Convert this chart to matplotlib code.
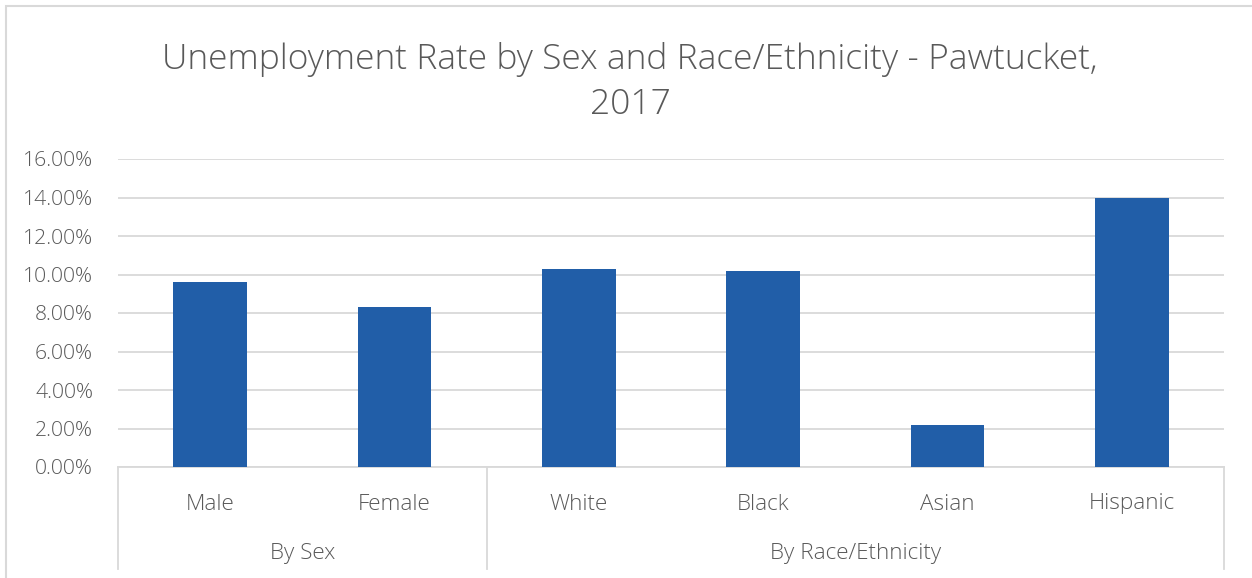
import matplotlib
matplotlib.use("Agg")
import matplotlib.pyplot as plt
from matplotlib.ticker import FuncFormatter, MultipleLocator
from matplotlib.patches import Rectangle
from matplotlib.transforms import blended_transform_factory

categories = ["Male", "Female", "White", "Black", "Asian", "Hispanic"]
values = [0.096, 0.083, 0.103, 0.102, 0.022, 0.140]
groups = ["By Sex", "By Race/Ethnicity"]
group_sizes = [2, 4]
title = "Unemployment Rate by Sex and Race/Ethnicity - Pawtucket,\n2017"

plt.rcParams['font.family'] = ['Open Sans', 'DejaVu Sans']
plt.rcParams['font.weight'] = 300
W, H = 1252, 578
fig = plt.figure(figsize=(W / 100, H / 100), dpi=100)

# outer chart border
fig.patches.append(Rectangle((6 / W, -0.1), 1.2, 1 - 6 / H + 0.1, transform=fig.transFigure,
                             fill=False, edgecolor="#d9d9d9", linewidth=1.5))

ax = fig.add_axes([118 / W, 1 - 467 / H, (1224 - 118) / W, (467 - 159) / H])
x = list(range(len(categories)))
ax.bar(x, values, width=0.4, color="#215ea8", zorder=3)
ax.set_xlim(-0.5, len(categories) - 0.5)
ax.set_ylim(0, 0.16)
ax.yaxis.set_major_locator(MultipleLocator(0.02))
ax.yaxis.set_major_formatter(FuncFormatter(lambda v, p: f"{v * 100:.2f}%"))
ax.grid(axis="y", color="#d9d9d9", linewidth=1.3, zorder=0)
for s in ["top", "right", "left"]:
    ax.spines[s].set_visible(False)
ax.spines["bottom"].set_color("#d9d9d9")
ax.spines["bottom"].set_linewidth(1.3)
ax.tick_params(axis="y", length=0, pad=18, labelsize=15.2, labelcolor="#595959")
ax.tick_params(axis="x", length=0, labelbottom=False)
for lbl in ax.get_yticklabels():
    lbl.set_fontweight(300)

tr = blended_transform_factory(ax.transData, ax.transAxes)
ax_h = 467 - 159
bottom_frac = -(569 - 467) / ax_h
# category tick labels
for xi, c in zip(x, categories):
    ax.text(xi, -(504 - 467) / ax_h, c, transform=tr, ha="center", va="center",
            fontsize=16.2, color="#595959", fontweight=300)
# group separators and labels
start = 0
bounds = [-0.5]
for g, n in zip(groups, group_sizes):
    center = start + (n - 1) / 2
    ax.text(center, -(554 - 467) / ax_h, g, transform=tr, ha="center", va="center",
            fontsize=16.2, color="#595959", fontweight=300)
    start += n
    bounds.append(start - 0.5)
for b in bounds:
    ax.plot([b, b], [0, bottom_frac], transform=tr, color="#d9d9d9", linewidth=1.3,
            clip_on=False)

fig.text(630 / W, 1 - 82 / H, title, ha="center", va="center", fontsize=25.5,
         color="#595959", fontweight=300, linespacing=1.4)

fig.savefig("out.png", dpi=100)
